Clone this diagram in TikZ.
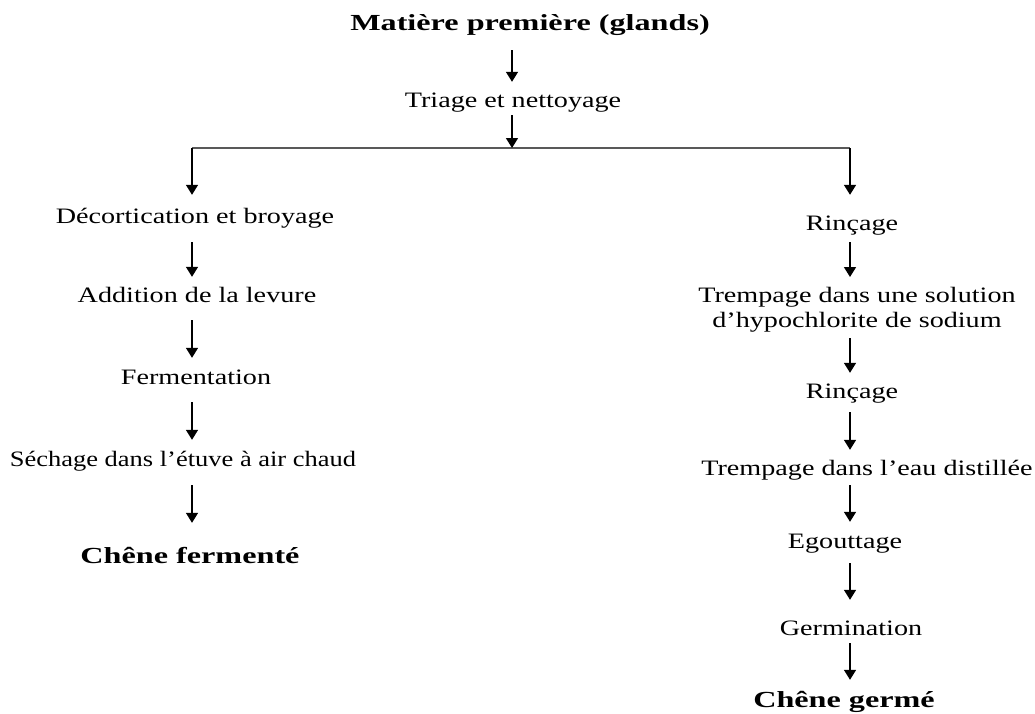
\documentclass[tikz,border=0pt]{standalone}
\usepackage{fontspec}
\usepackage{graphicx}
\setmainfont{Liberation Serif}[FakeStretch=1.28]
\newfontfamily\bft{Liberation Serif Bold}[FakeStretch=1.4]
\usetikzlibrary{arrows.meta,calc}
\begin{document}
\begin{tikzpicture}[x=1pt,y=-1pt,
  txt/.style={inner sep=0pt,anchor=base,text height=16pt,text depth=5pt,font=\fontsize{22}{25}\selectfont},
  btxt/.style={inner sep=0pt,anchor=base,text height=16pt,text depth=5pt,font=\fontsize{23}{25}\selectfont\bft},
  two/.style={inner sep=0pt,anchor=north,align=center,font=\fontsize{22}{25}\selectfont},
  arr/.style={line width=1.5pt,-{Triangle[length=10pt,width=12pt]}},
  ln/.style={line width=1.6pt,black!65}]
\useasboundingbox (0,0) rectangle (1035,713);
% columns
\coordinate (C) at (512,0);
\coordinate (L) at (192,0);
\coordinate (R) at (850,0);
\coordinate (J) at (512,148);
\coordinate (Lb) at (192,148);
\coordinate (Rb) at (850,148);
% top
\node[btxt] (mat) at (530,30) {Matière première (glands)};
\node[txt] (tri) at (513,107) {Triage et nettoyage};
% left column
\node[txt] (dec) at (195,223) {Décortication et broyage};
\node[txt] (add) at (197,302) {Addition de la levure};
\node[txt] (fer) at (196,384) {Fermentation};
\node[txt] (sec) at (183,466) {\scalebox{0.94}[1]{Séchage dans l’étuve à air chaud}};
\node[btxt] (cf) at (190,563) {Chêne fermenté};
% right column
\node[txt] (rin1) at (852,230) {Rinçage};
\node[two] (tr1) at (857,286) {\rule{0pt}{16pt}Trempage dans une solution\\d’hypochlorite de sodium\rule[-5pt]{0pt}{5pt}};
\node[txt] (rin2) at (852,398) {Rinçage};
\node[txt] (te) at (867,475) {Trempage dans l’eau distillée};
\node[txt] (ego) at (845,548) {Egouttage};
\node[txt] (ger) at (851,635) {Germination};
\node[btxt] (cg) at (844,707) {Chêne germé};
% connectors
\draw[ln] (Lb) -- (Rb);
\draw[arr,shorten <=15pt,shorten >=9pt] (mat.south -| C) -- (tri.north -| C);
\draw[arr,shorten <=3pt] (tri.south -| C) -- (J);
\draw[arr,shorten >=12pt] (Lb) -- (dec.north -| L);
\draw[arr,shorten >=19pt] (Rb) -- (rin1.north -| R);
\draw[arr,shorten <=14pt,shorten >=9pt] (dec.south -| L) -- (add.north -| L);
\draw[arr,shorten <=13pt,shorten >=10pt] (add.south -| L) -- (fer.north -| L);
\draw[arr,shorten <=13pt,shorten >=10pt] (fer.south -| L) -- (sec.north -| L);
\draw[arr,shorten <=14pt,shorten >=24pt] (sec.south -| L) -- (cf.north -| L);
\draw[arr,shorten <=7pt,shorten >=9pt] (rin1.south -| R) -- (tr1.north -| R);
\draw[arr,shorten <=6pt,shorten >=9pt] (tr1.south -| R) -- (rin2.north -| R);
\draw[arr,shorten <=9pt,shorten >=9pt] (rin2.south -| R) -- (te.north -| R);
\draw[arr,shorten <=5pt,shorten >=10pt] (te.south -| R) -- (ego.north -| R);
\draw[arr,shorten <=10pt,shorten >=19pt] (ego.south -| R) -- (ger.north -| R);
\draw[arr,shorten <=3pt,shorten >=11pt] (ger.south -| R) -- (cg.north -| R);
\end{tikzpicture}
\end{document}
